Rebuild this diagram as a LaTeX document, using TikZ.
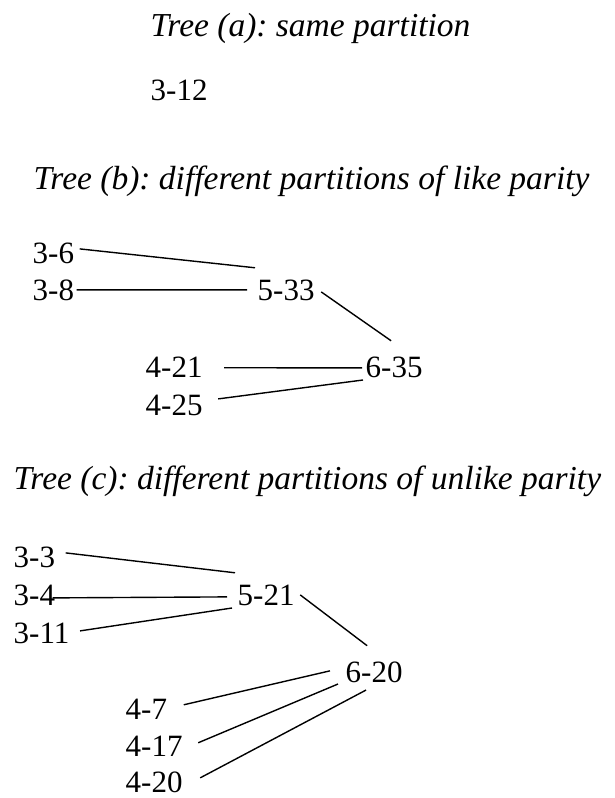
\documentclass[tikz,border=0pt]{standalone}
\usepackage{fontspec}
\setmainfont{Liberation Serif}
\frenchspacing
\begin{document}
\begin{tikzpicture}[x=1pt,y=1pt,line width=1.4pt]
\tikzstyle{every node}+=[inner sep=0pt,anchor=base west]
\tikzstyle{ttl}=[font=\fontsize{33.5}{38}\selectfont\itshape]
\tikzstyle{lbl}=[font=\fontsize{31}{36}\selectfont]
\useasboundingbox (0,0) rectangle (614,-798);
% tree (a)
\node[ttl] (ta) at (150,-36) {Tree (a): same partition};
\node[lbl] (n312) at (150,-100) {3-12};
% tree (b)
\node[ttl] (tb) at (33,-189) {Tree (b): different partitions of like parity};
\node[lbl] (n36) at (32,-263) {3-6};
\node[lbl] (n38) at (32,-300) {3-8};
\node[lbl] (n533) at (257,-300) {5-33};
\node[lbl] (n635) at (365,-377) {6-35};
\node[lbl] (n421) at (145,-377) {4-21};
\node[lbl] (n425) at (145,-415) {4-25};
\draw ([shift={(5,4)}]n36.east) -- ([shift={(-2,11)}]n533.north west);
\draw ([xshift=2]n38.east) -- ([xshift=-10]n533.west);
\draw ([shift={(6,-2)}]n533.east) -- ([shift={(-3,15)}]n635.north);
\draw ([shift={(21,-1)}]n421.east) -- ([shift={(-3,-1)}]n635.west);
\draw ([shift={(15,6)}]n425.east) -- ([shift={(-2,-2)}]n635.south west);
% tree (c)
\node[ttl] (tc) at (13,-489) {Tree (c): different partitions of unlike parity};
\node[lbl] (n33) at (13,-567) {3-3};
\node[lbl] (n34) at (13,-605) {3-4};
\node[lbl] (n311) at (13,-643) {3-11};
\node[lbl] (n521) at (237,-605) {5-21};
\node[lbl] (n620) at (345,-682) {6-20};
\node[lbl] (n47) at (125,-719) {4-7};
\node[lbl] (n417) at (125,-756) {4-17};
\node[lbl] (n420) at (125,-792) {4-20};
\draw ([shift={(10,4)}]n33.east) -- ([shift={(-2,11)}]n521.north west);
\draw ([shift={(-3,-3)}]n34.east) -- ([shift={(-10,-2)}]n521.west);
\draw ([shift={(10,2)}]n311.east) -- ([shift={(-5,-2)}]n521.south west);
\draw ([xshift=5]n521.east) -- ([shift={(-7,15)}]n620.north);
\draw ([shift={(16,4)}]n47.east) -- ([shift={(-15,1)}]n620.west);
\draw ([shift={(15,3)}]n417.east) -- ([shift={(-7,-1)}]n620.south west);
\draw ([shift={(17,4)}]n420.east) -- ([shift={(-8,-7)}]n620.south);
\end{tikzpicture}
\end{document}
